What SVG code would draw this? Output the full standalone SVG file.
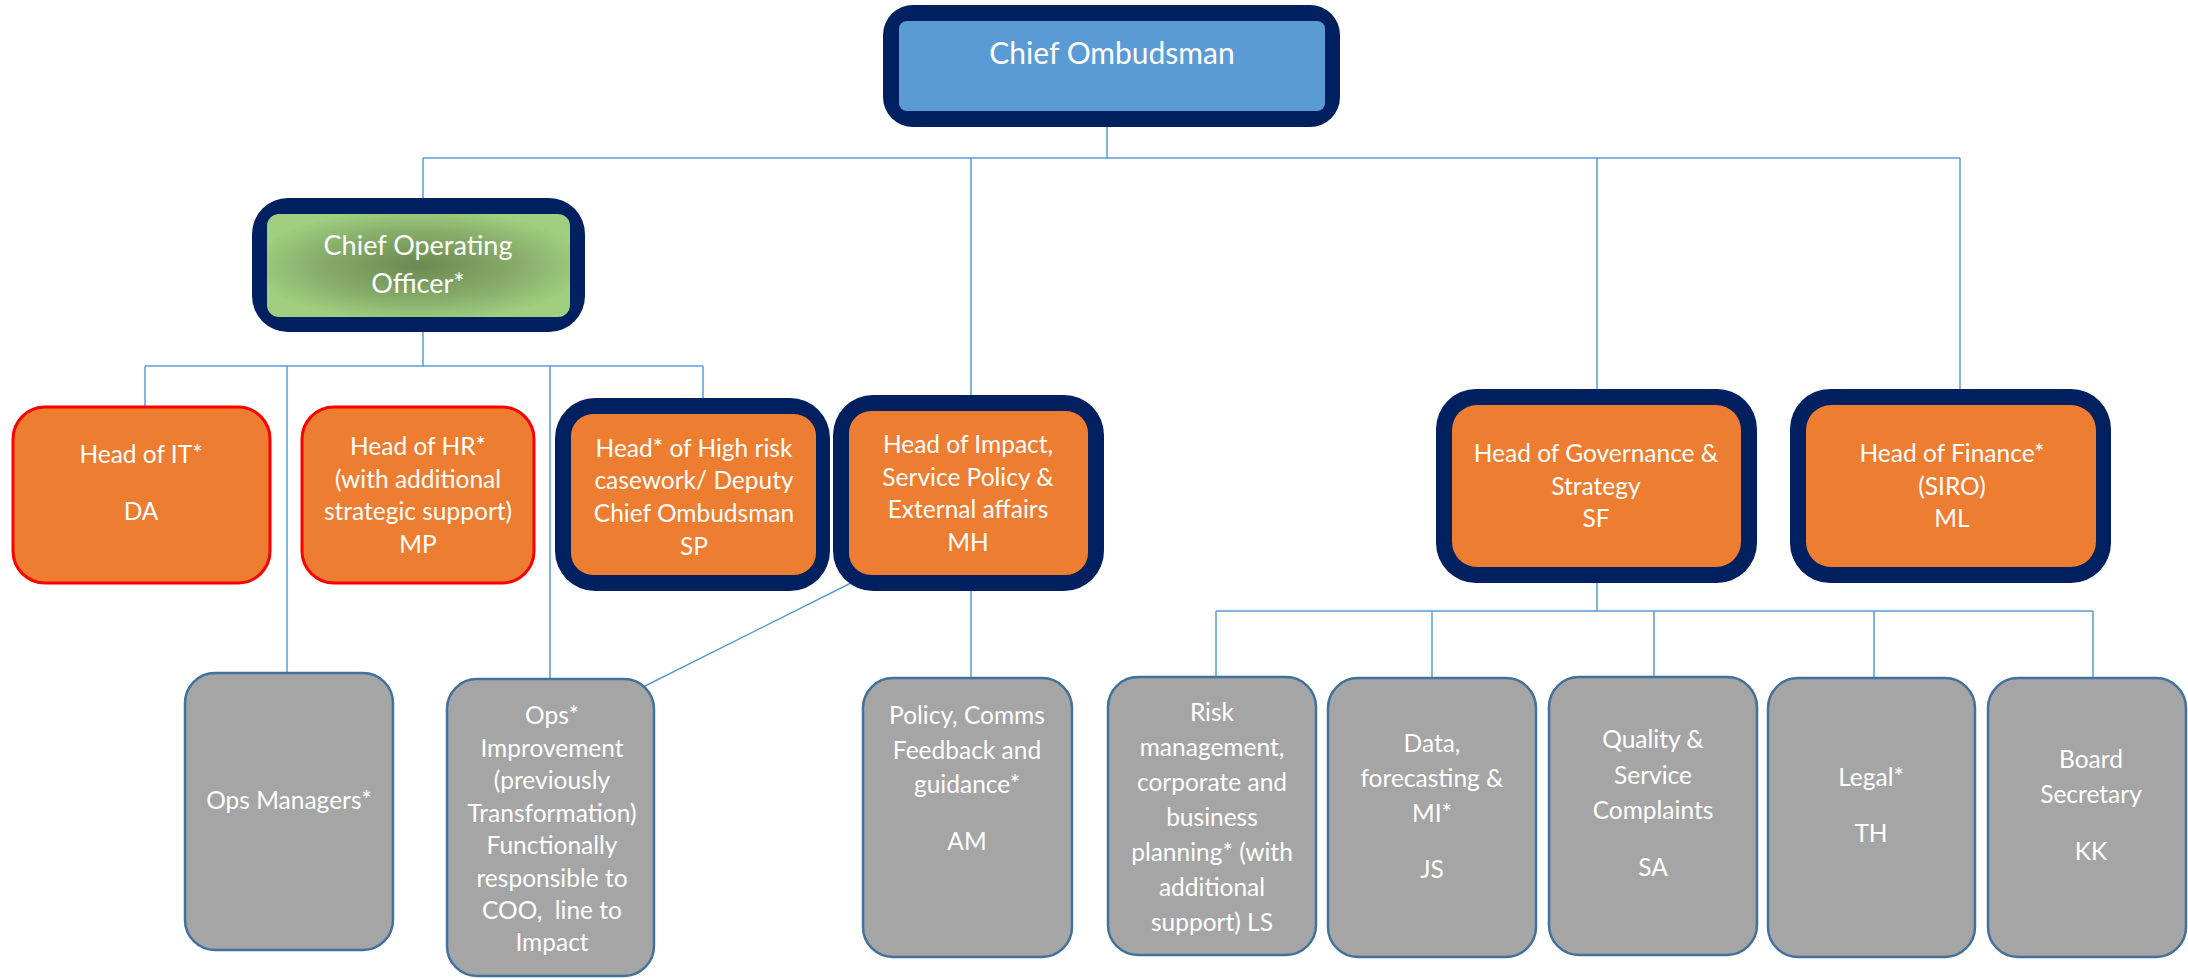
<svg xmlns="http://www.w3.org/2000/svg" width="2188" height="979" viewBox="0 0 2188 979">
<defs>
<radialGradient id="green" cx="50%" cy="50%" r="55%">
<stop offset="0" stop-color="#6a8a50"/>
<stop offset="0.6" stop-color="#87ad6a"/>
<stop offset="1" stop-color="#a0cf80"/>
</radialGradient>
<style>
.conn{fill:none;stroke:#5b9bd5;stroke-width:1.5}
.navy{fill:#002060}
.blue{fill:#5b9bd5}
.orange{fill:#ed7d31}
.red{fill:#ed7d31;stroke:#ff0000;stroke-width:3}
.gray{fill:#a5a5a5;stroke:#41719c;stroke-width:2.5}
text{font-family:Lato,"Liberation Sans",sans-serif;fill:#ffffff;text-anchor:middle;font-size:24.5px}
.big{font-size:30px}
.coo{font-size:27px}
</style>
</defs>
<rect width="2188" height="979" fill="#ffffff"/>
<g id="connectors">
<path class="conn" d="M1107 127V158M423 158H1960M423 158V198M971 158V395M1597 158V389M1960 158V389"/>
<path class="conn" d="M423 332V366M145 366H703M145 366V407M287 366V673M550 366V679M703 366V398"/>
<path class="conn" d="M971 591V678M851 583L643 687"/>
<path class="conn" d="M1597 583V611M1216 611H2093M1216 611V677M1432 611V678M1654 611V677M1874 611V678M2093 611V678"/>
</g>
<g id="chief-ombudsman">
<rect class="navy" x="883" y="5" width="457" height="122" rx="30"/>
<rect class="blue" x="899" y="21" width="426" height="90" rx="8"/>
<text class="big" x="1112" y="64">Chief Ombudsman</text>
</g>
<g id="coo">
<rect class="navy" x="252" y="198" width="333" height="134" rx="36"/>
<rect x="267" y="214" width="303" height="103" rx="12" fill="url(#green)"/>
<text class="coo" x="418" y="255">Chief Operating</text>
<text class="coo" x="418" y="293">Officer*</text>
</g>
<g id="head-it">
<rect class="red" x="13" y="407" width="257" height="176" rx="32"/>
<text x="141" y="463">Head of IT*</text>
<text x="141" y="520">DA</text>
</g>
<g id="head-hr">
<rect class="red" x="302" y="407" width="232" height="176" rx="32"/>
<text x="418" y="455">Head of HR*</text>
<text x="418" y="488">(with additional</text>
<text x="418" y="520">strategic support)</text>
<text x="418" y="553">MP</text>
</g>
<g id="head-high-risk">
<rect class="navy" x="555" y="398" width="275" height="193" rx="40"/>
<rect class="orange" x="571" y="414" width="245" height="161" rx="22"/>
<text x="694" y="457">Head* of High risk</text>
<text x="694" y="489">casework/ Deputy</text>
<text x="694" y="522">Chief Ombudsman</text>
<text x="694" y="555">SP</text>
</g>
<g id="head-impact">
<rect class="navy" x="833" y="395" width="271" height="196" rx="40"/>
<rect class="orange" x="849" y="411" width="239" height="164" rx="22"/>
<text x="968" y="453">Head of Impact,</text>
<text x="968" y="486">Service Policy &amp;</text>
<text x="968" y="518">External affairs</text>
<text x="968" y="551">MH</text>
</g>
<g id="head-governance">
<rect class="navy" x="1436" y="389" width="321" height="194" rx="40"/>
<rect class="orange" x="1452" y="405" width="289" height="162" rx="25"/>
<text x="1596" y="462">Head of Governance &amp;</text>
<text x="1596" y="495">Strategy</text>
<text x="1596" y="527">SF</text>
</g>
<g id="head-finance">
<rect class="navy" x="1790" y="389" width="321" height="194" rx="40"/>
<rect class="orange" x="1806" y="405" width="290" height="162" rx="25"/>
<text x="1952" y="462">Head of Finance*</text>
<text x="1952" y="495">(SIRO)</text>
<text x="1952" y="527">ML</text>
</g>
<g id="ops-managers">
<rect class="gray" x="185" y="673" width="208" height="277" rx="30"/>
<text x="289" y="809">Ops Managers*</text>
</g>
<g id="ops-improvement">
<rect class="gray" x="447" y="679" width="207" height="297" rx="30"/>
<text x="552" y="724">Ops*</text>
<text x="552" y="757">Improvement</text>
<text x="552" y="789">(previously</text>
<text x="552" y="822">Transformation)</text>
<text x="552" y="854">Functionally</text>
<text x="552" y="887">responsible to</text>
<text x="552" y="919">COO, &#160;line to</text>
<text x="552" y="951">Impact</text>
</g>
<g id="policy-comms">
<rect class="gray" x="863" y="678" width="209" height="279" rx="30"/>
<text x="967" y="724">Policy, Comms</text>
<text x="967" y="759">Feedback and</text>
<text x="967" y="793">guidance*</text>
<text x="967" y="850">AM</text>
</g>
<g id="risk-management">
<rect class="gray" x="1108" y="677" width="208" height="278" rx="30"/>
<text x="1212" y="721">Risk</text>
<text x="1212" y="756">management,</text>
<text x="1212" y="791">corporate and</text>
<text x="1212" y="826">business</text>
<text x="1212" y="861">planning* (with</text>
<text x="1212" y="896">additional</text>
<text x="1212" y="931">support) LS</text>
</g>
<g id="data-forecasting">
<rect class="gray" x="1328" y="678" width="208" height="279" rx="30"/>
<text x="1432" y="752">Data,</text>
<text x="1432" y="787">forecasting &amp;</text>
<text x="1432" y="822">MI*</text>
<text x="1432" y="878">JS</text>
</g>
<g id="quality">
<rect class="gray" x="1549" y="677" width="208" height="278" rx="30"/>
<text x="1653" y="748">Quality &amp;</text>
<text x="1653" y="784">Service</text>
<text x="1653" y="819">Complaints</text>
<text x="1653" y="876">SA</text>
</g>
<g id="legal">
<rect class="gray" x="1768" y="678" width="207" height="279" rx="30"/>
<text x="1871" y="786">Legal*</text>
<text x="1871" y="842">TH</text>
</g>
<g id="board-secretary">
<rect class="gray" x="1988" y="678" width="198" height="279" rx="30"/>
<text x="2091" y="768">Board</text>
<text x="2091" y="803">Secretary</text>
<text x="2091" y="860">KK</text>
</g>
</svg>
